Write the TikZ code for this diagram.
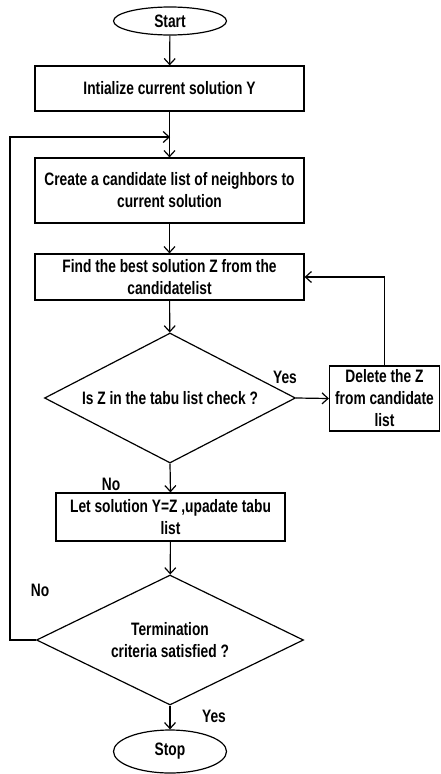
\documentclass[tikz,border=0pt]{standalone}
\usepackage{fontspec}
\setmainfont{Liberation Sans}[FakeStretch=0.765]
\usetikzlibrary{shapes.geometric,arrows.meta}
\begin{document}
\begin{tikzpicture}[x=1pt,y=-1pt,
  every node/.style={font=\fontsize{18}{22}\selectfont\bfseries, inner sep=0pt},
  procbox/.style={draw, line width=1.2pt, rectangle, align=center},
  term/.style={draw, line width=1.2pt, ellipse, minimum width=113pt},
  decide/.style={draw, line width=1.2pt, diamond, align=center},
  lbl/.style={anchor=center},
  arr/.style={line width=1.2pt, -{Straight Barb[length=6pt,width=11pt]}}]
\useasboundingbox (0,0) rectangle (441,774);

% terminals
\node[term, minimum height=28pt] (start) at (170,21) {Start};
\node[term, minimum height=43pt] (stop) at (170,751.5) {Stop};

% process boxes
\node[procbox, minimum width=269pt, minimum height=45pt] (init) at (169.5,88.5) {Intialize current solution Y};
\node[procbox, minimum width=269pt, minimum height=65pt] (create) at (169.5,190.5) {Create a candidate list of neighbors to\\current solution};
\node[procbox, minimum width=269pt, minimum height=46pt] (find) at (169.5,277) {Find the best solution Z from the\\candidatelist};
\node[procbox, minimum width=229pt, minimum height=48pt] (upd) at (170.5,517) {Let solution Y=Z ,upadate tabu\\list};
\node[procbox, minimum width=110pt, minimum height=65pt] (del) at (384.5,398.5) {Delete the Z\\from candidate\\list};

% decisions
\node[decide, minimum width=251pt, minimum height=130pt, aspect=1.93] (tabu) at (170,398) {Is Z in the tabu list check ?};
\node[decide, minimum width=267pt, minimum height=130pt, aspect=2.05] (term) at (170,640) {Termination\\criteria satisfied ?};

% loop points
\coordinate (join) at (170,137);
\coordinate (lcorner) at (10,640);

% connectors
\draw[arr] (start) -- (init);
\draw[arr] (init) -- (create);
\draw[arr] (create) -- (find);
\draw[arr] (find) -- (tabu);
\draw[arr] (tabu.east) -- (del.west);
\draw[arr] (del.north) |- (find.east);
\draw[arr] (tabu.south) -- (upd.north);
\draw[arr] (upd) -- (term);
\draw[arr] (term.south) -- (stop.north);
\draw[arr] (term.west) -- (lcorner) |- (join);

% branch labels
\node[lbl] (yes1) at (285,377) {Yes};
\node[lbl] (no1) at (111,484) {No};
\node[lbl] (no2) at (40,590) {No};
\node[lbl] (yes2) at (214,716) {Yes};
\end{tikzpicture}
\end{document}
